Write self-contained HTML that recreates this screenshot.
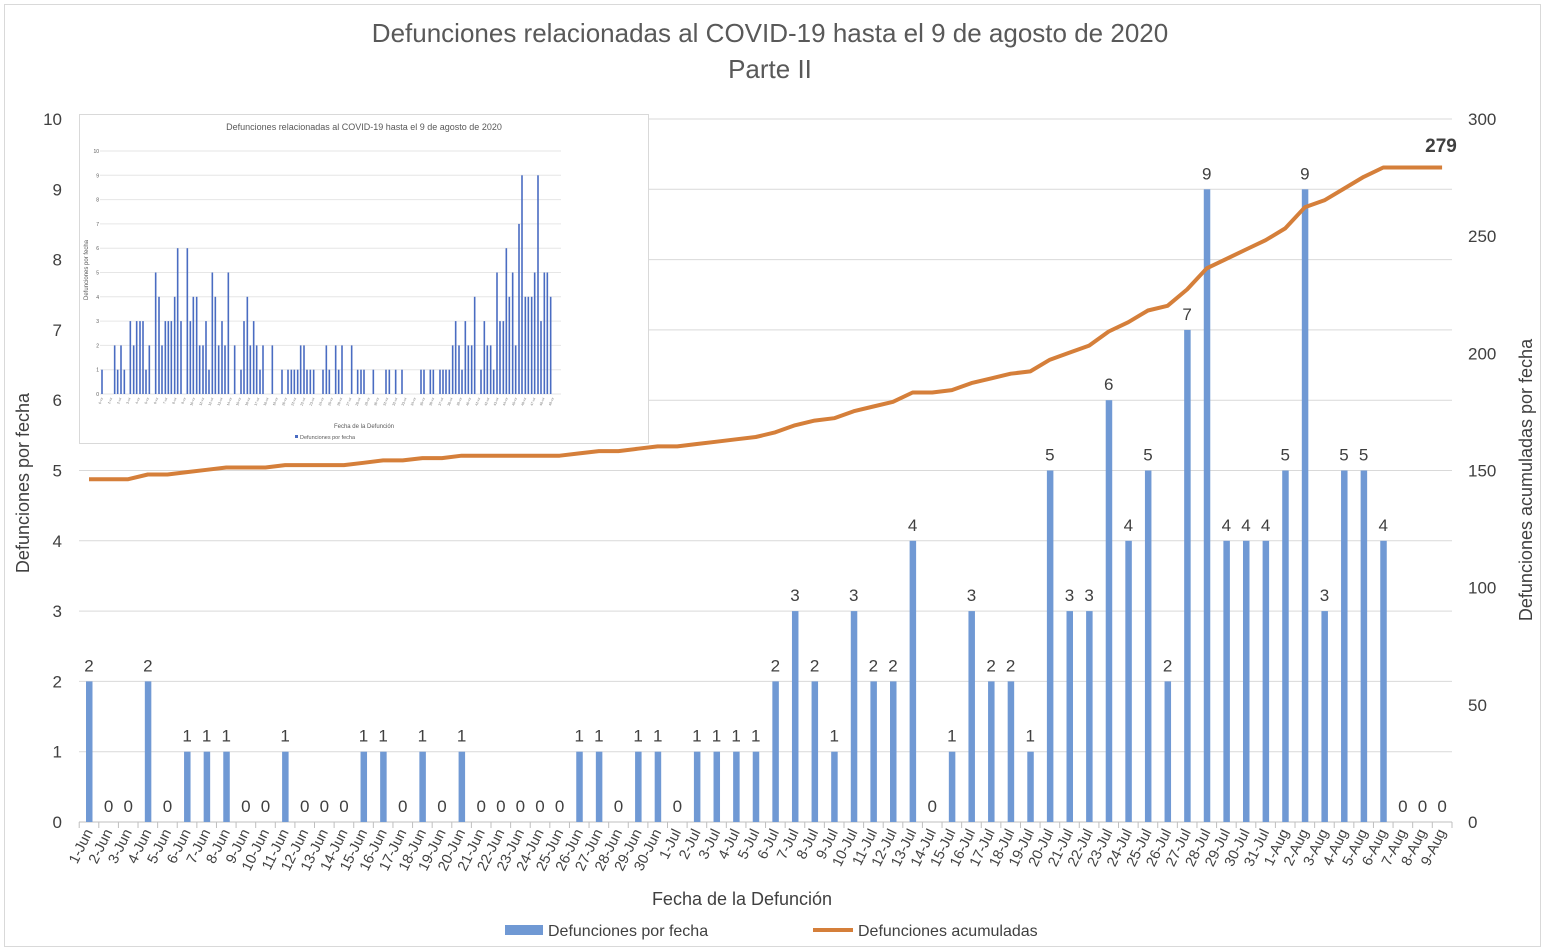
<!DOCTYPE html>
<html><head><meta charset="utf-8"><style>
html,body{margin:0;padding:0;background:#fff;}
svg{display:block;font-family:"Liberation Sans",sans-serif;}
</style></head><body>
<svg id="s" width="1545" height="952" xmlns="http://www.w3.org/2000/svg"></svg>
<script>
const s=document.getElementById('s');let h='';
h+='<rect x="4.5" y="4.5" width="1536" height="942" fill="#fff" stroke="#d9d9d9"/>';
const y0=822,pu=70.3,x0=89,dx=19.61;
for(let i=0;i<=10;i++){const y=y0-i*pu;h+=`<line x1="79" x2="1452" y1="${y}" y2="${y}" stroke="#d9d9d9" stroke-width="1"/>`;
h+=`<text x="62" y="${y+6}" text-anchor="end" font-size="17" fill="#404040">${i}</text>`;}
for(let i=0;i<=6;i++){const y=y0-i*pu*10/6;h+=`<text x="1468" y="${y+6}" font-size="17" fill="#404040">${i*50}</text>`;}
const v=[2,0,0,2,0,1,1,1,0,0,1,0,0,0,1,1,0,1,0,1,0,0,0,0,0,1,1,0,1,1,
0,1,1,1,1,2,3,2,1,3,2,2,4,0,1,3,2,2,1,5,3,3,6,4,5,2,7,9,4,4,4,
5,9,3,5,5,4,0,0,0];
const lab=[];for(let i=1;i<=30;i++)lab.push(i+'-Jun');for(let i=1;i<=31;i++)lab.push(i+'-Jul');for(let i=1;i<=9;i++)lab.push(i+'-Aug');
h+=`<line x1="79" x2="1452" y1="${y0}" y2="${y0}" stroke="#bfbfbf"/>`;
let cum=144.3,pts=[];
v.forEach((d,i)=>{const x=x0+i*dx;const t=y0-d*pu;
if(d>0)h+=`<rect x="${x-3}" y="${t}" width="6.5" height="${d*pu}" fill="#7099d4"/>`;
h+=`<text x="${x}" y="${t-10}" text-anchor="middle" font-size="17" fill="#404040">${d}</text>`;
const tx=x-dx/2;h+=`<line x1="${tx}" x2="${tx}" y1="822" y2="828" stroke="#bfbfbf"/>`;
h+=`<text transform="translate(${x+4},${832}) rotate(-64)" text-anchor="end" font-size="14.5" fill="#404040">${lab[i]}</text>`;
cum+=d;pts.push(x+','+(y0-cum*pu*10/300).toFixed(1));});
h+=`<line x1="1452" x2="1452" y1="822" y2="828" stroke="#bfbfbf"/>`;
h+=`<polyline points="${pts.join(' ')}" fill="none" stroke="#d57f3a" stroke-width="4" stroke-linejoin="round"/>`;
h+=`<text x="1441" y="152" text-anchor="middle" font-size="19" font-weight="bold" fill="#404040">279</text>`;
// inset
h+='<rect x="79.5" y="114.5" width="569" height="329" fill="#fff" stroke="#d9d9d9"/>';
h+='<text x="364" y="130" text-anchor="middle" font-size="9" fill="#595959">Defunciones relacionadas al COVID-19 hasta el 9 de agosto de 2020</text>';
for(let i=0;i<=10;i++){const y=394-i*24.3;h+=`<line x1="100" x2="561" y1="${y}" y2="${y}" stroke="#e6e6e6"/><text x="99" y="${y+2}" text-anchor="end" font-size="5" fill="#595959">${i}</text>`;}
const iv=[[126,1],[164,2],[173,1],[183,2],[193,1],[211,3],[221,2],[230,3],[240,3],[249,3],[258,1],[268,2],[287,5],[297,4],[306,2],[316,3],[325,3],[334,3],[344,4],[353,6],[363,3],[382,6],[391,3],[400,4],[410,4],[419,2],[429,2],[438,3],[447,1],[457,5],[466,4],[476,2],[486,3],[495,2],[505,5],[524,2],[543,1],[552,3],[562,4],[571,2],[581,3],[590,2],[600,1],[609,2],[637,2],[666,1],[684,1],[694,1],[703,1],[713,1],[722,2],[732,2],[741,1],[751,1],[761,1],[789,1],[799,2],[808,1],[827,2],[836,1],[846,2],[875,2],[893,1],[903,1],[912,1],[940,1],[978,1],[988,1],[1007,1],[1026,1],[1083,1],[1092,1],[1111,1],[1120,1],[1140,1],[1149,1],[1158,1],[1168,1],[1178,2],[1187,3],[1197,2],[1206,1],[1216,3],[1225,2],[1235,2],[1244,4],[1263,1],[1273,3],[1282,2],[1292,2],[1301,1],[1311,5],[1320,3],[1330,3],[1339,6],[1348,4],[1358,5],[1367,2],[1377,7],[1386,9],[1396,4],[1405,4],[1415,4],[1424,5],[1434,9],[1443,3],[1453,5],[1462,5],[1472,4]];
iv.forEach(([zx,d])=>{const x=60+zx/3;h+=`<rect x="${x-0.8}" y="${394-d*24.3}" width="1.6" height="${d*24.3}" fill="#4a6cc2"/>`;});
for(let i=0;i<50;i++){const x=102+i*9.2;h+=`<text transform="translate(${x+1},398) rotate(-70)" text-anchor="end" font-size="3.5" fill="#777">${i}-xx</text>`;}
h+='<text transform="translate(88,270) rotate(-90)" text-anchor="middle" font-size="6" fill="#595959">Defunciones por fecha</text>';
h+='<text x="364" y="428" text-anchor="middle" font-size="6" fill="#595959">Fecha de la Defunción</text>';
h+='<rect x="295" y="435" width="3" height="3" fill="#4a6cc2"/><text x="300" y="439" font-size="5.5" fill="#595959">Defunciones por fecha</text>';
// titles
h+='<text x="770" y="42" text-anchor="middle" font-size="26" fill="#595959">Defunciones relacionadas al COVID-19 hasta el 9 de agosto de 2020</text>';
h+='<text x="770" y="78" text-anchor="middle" font-size="26" fill="#595959">Parte II</text>';
h+='<text transform="translate(29,483) rotate(-90)" text-anchor="middle" font-size="18" fill="#404040">Defunciones por fecha</text>';
h+='<text transform="translate(1532,480) rotate(-90)" text-anchor="middle" font-size="18" fill="#404040">Defunciones acumuladas por fecha</text>';
h+='<text x="742" y="905" text-anchor="middle" font-size="18" fill="#404040">Fecha de la Defunción</text>';
h+='<rect x="505" y="925" width="38" height="10" fill="#7099d4"/><text x="548" y="936" font-size="16" fill="#404040">Defunciones por fecha</text>';
h+='<line x1="813" x2="853" y1="930" y2="930" stroke="#d57f3a" stroke-width="4"/><text x="858" y="936" font-size="16" fill="#404040">Defunciones acumuladas</text>';
s.innerHTML=h;
</script>
</body></html>
